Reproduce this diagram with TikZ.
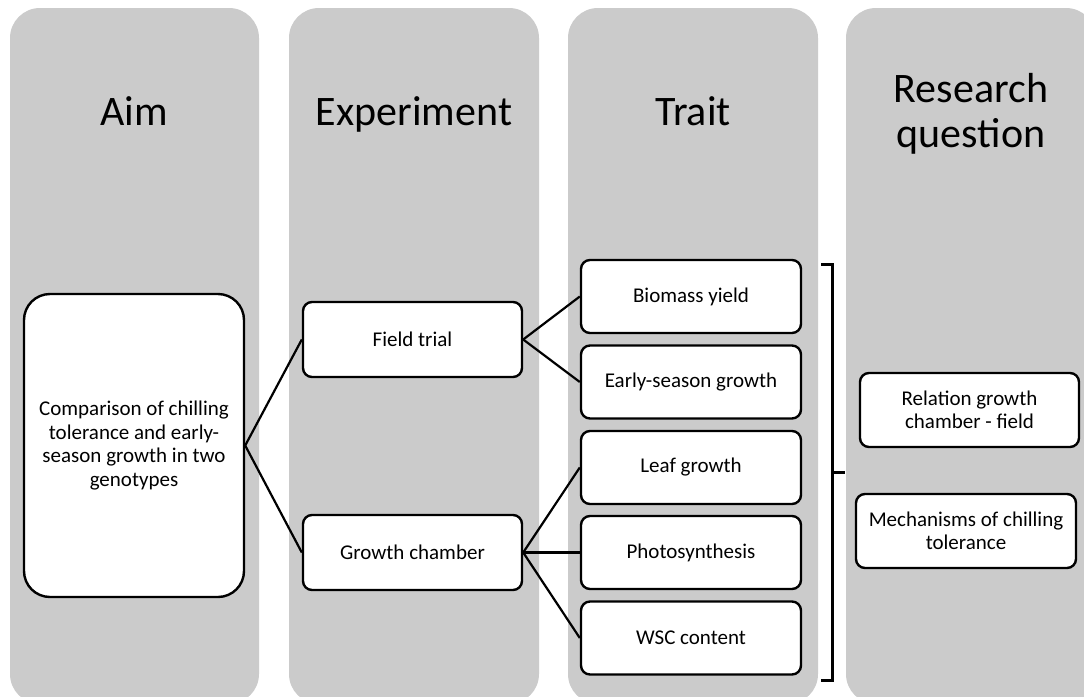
\documentclass[tikz,border=0pt]{standalone}
\usepackage{fontspec}
\setmainfont{Carlito}
\definecolor{colgray}{RGB}{203,203,203}
\tikzset{
  column/.style={fill=colgray, draw=none, rounded corners=30pt},
  header/.style={font=\fontsize{42}{45}\selectfont, align=center, inner sep=0pt, anchor=base},
  box/.style={draw=black, fill=white, line width=2.4pt, rounded corners=9pt,
    font=\fontsize{21}{23.5}\selectfont, align=center, inner sep=0pt},
  link/.style={draw=black, line width=2.2pt},
  brace/.style={draw=black, line width=3pt}
}
\begin{document}
\begin{tikzpicture}[x=1pt,y=-1pt]
\useasboundingbox (0,0) rectangle (1084,696);
\begin{scope}
\clip (0,0) rectangle (1084,696);
\fill[column] (10,8) rectangle (259,704);
\fill[column] (289,8) rectangle (539,704);
\fill[column] (568,8) rectangle (818,704);
\fill[column] (846,8) rectangle (1096,704);
\end{scope}

\node[header] (haim) at (134,125) {Aim};
\node[header] (hexp) at (414,125) {Experiment};
\node[header] (htrait) at (693,125) {Trait};
\node[header] (hrq) at (971,147) {Research\\question};

\node[box, rounded corners=26pt, minimum width=220pt, minimum height=303pt] (aim) at (134,445.5)
  {Comparison of chilling\\tolerance and early-\\season growth in two\\genotypes};

\node[box, minimum width=219pt, minimum height=75pt] (field) at (412.5,339.5) {Field trial};
\node[box, minimum width=219pt, minimum height=75pt] (chamber) at (412.5,552.5) {Growth chamber};

\node[box, minimum width=220pt, minimum height=73pt] (biomass) at (691,296.5) {Biomass yield};
\node[box, minimum width=220pt, minimum height=73pt] (early) at (691,382) {Early-season growth};
\node[box, minimum width=220pt, minimum height=73pt] (leaf) at (691,467.5) {Leaf growth};
\node[box, minimum width=220pt, minimum height=73pt] (photo) at (691,552.5) {Photosynthesis};
\node[box, minimum width=220pt, minimum height=73pt] (wsc) at (691,638) {WSC content};

\node[box, minimum width=219pt, minimum height=74pt] (relation) at (969.5,410) {Relation growth\\chamber - field};
\node[box, minimum width=220pt, minimum height=74pt] (mech) at (966,531) {Mechanisms of chilling\\tolerance};

\draw[link] (aim.east) -- (field.west);
\draw[link] (aim.east) -- (chamber.west);
\draw[link] (field.east) -- (biomass.west);
\draw[link] (field.east) -- (early.west);
\draw[link] (chamber.east) -- (leaf.west);
\draw[link] (chamber.east) -- (photo.west);
\draw[link] (chamber.east) -- (wsc.west);

\coordinate (bt) at (821,264);
\coordinate (bb) at (821,680);
\coordinate (bm) at (845,472);
\draw[brace] (bt) -- (832,264) -- (832,680) -- (bb);
\draw[brace] (832,472) -- (bm);
\end{tikzpicture}
\end{document}
